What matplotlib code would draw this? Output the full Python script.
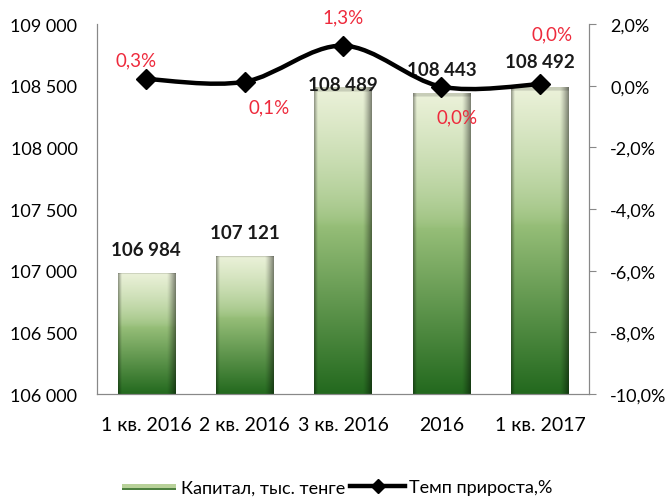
import numpy as np
import matplotlib
matplotlib.use("Agg")
import matplotlib.pyplot as plt
from matplotlib.path import Path
from matplotlib.patches import PathPatch, Rectangle
from matplotlib.legend_handler import HandlerBase
from matplotlib.lines import Line2D

categories = ["1 кв. 2016", "2 кв. 2016", "3 кв. 2016", "2016", "1 кв. 2017"]
capital = [106984, 107121, 108489, 108443, 108492]
growth = [0.22, 0.13, 1.3, -0.03, 0.05]
growth_labels = ["0,3%", "0,1%", "1,3%", "0,0%", "0,0%"]
value_labels = ["106 984", "107 121", "108 489", "108 443", "108 492"]
left_ticks = [106000, 106500, 107000, 107500, 108000, 108500, 109000]
right_ticks = [-10, -8, -6, -4, -2, 0, 2]

plt.rcParams['font.family'] = ['Lato', 'DejaVu Sans']

fig = plt.figure(figsize=(6.68, 5.02), dpi=100)
ax = fig.add_axes([0.145, 0.213, 0.737, 0.737])
ax2 = ax.twinx()

x = np.arange(len(categories))
width = 0.58
ymin, ymax = 106000, 109000

# gradient image for bars
ny, nx = 200, 60
t = np.linspace(0, 1, ny)[:, None]  # 0 bottom -> 1 top
top = np.array([236, 242, 218]) / 255
mid = np.array([150, 190, 120]) / 255
bot = np.array([35, 105, 30]) / 255
tt = t[..., None]
vert = np.where(tt < 0.55, bot + (mid - bot) * (tt / 0.55),
                mid + (top - mid) * ((tt - 0.55) / 0.45) ** 0.7)
u = np.linspace(0, 1, nx)[None, :]
shade = np.ones_like(u)
shade = shade - 0.45 * np.clip((u - 0.85) / 0.15, 0, 1) ** 1.2 - 0.35 * np.clip((0.06 - u) / 0.06, 0, 1)
img = np.clip(vert * shade[..., None], 0, 1)
bev = (np.linspace(0, 1, ny) > 0.985)[:, None, None]
img = np.where(bev, np.clip(img * 0.85, 0, 1), img)

bars = ax.bar(x, capital, width=width, color=(0.3, 0.55, 0.25), zorder=2)
for b in bars:
    x0 = b.get_x()
    h = b.get_height()
    im = ax.imshow(img, extent=[x0, x0 + width, ymin, h], origin='lower',
                   aspect='auto', zorder=2.1, interpolation='bilinear')
    im.set_clip_path(b)

val_offsets = [17, 17, 2, 17, 18]
for xi, v, lab, off in zip(x, capital, value_labels, val_offsets):
    ax.annotate(lab, (xi, v), xytext=(0, off), textcoords='offset points',
                ha='center', va='center', fontsize=13.5, fontweight='bold',
                color='#1a1a1a', zorder=5)

ax.set_xlim(-0.5, len(categories) - 0.5)
ax.set_ylim(ymin, ymax)
ax.set_yticks(left_ticks)
ax.set_yticklabels([f"{v:,}".replace(",", " ") for v in left_ticks], fontsize=13)
ax.set_xticks(x)
ax.set_xticklabels(categories, fontsize=14)
ax.tick_params(axis='y', length=0, pad=14)
ax.tick_params(axis='x', length=0, pad=16)

# smooth line through growth points (Catmull-Rom -> Bezier)
pts = np.column_stack([x, growth]).astype(float)
verts = [tuple(pts[0])]
codes = [Path.MOVETO]
n = len(pts)
for i in range(n - 1):
    p0 = pts[i - 1] if i > 0 else pts[i]
    p1, p2 = pts[i], pts[i + 1]
    p3 = pts[i + 2] if i + 2 < n else pts[i + 1]
    c1 = p1 + (p2 - p0) / 6
    c2 = p2 - (p3 - p1) / 6
    verts += [tuple(c1), tuple(c2), tuple(p2)]
    codes += [Path.CURVE4] * 3
ax2.add_patch(PathPatch(Path(verts, codes), fill=False, lw=3.2, color='black', zorder=6))
ax2.plot(x, growth, linestyle='none', marker='D', markersize=10, color='black', zorder=7)

pct_offsets = [(-7, 14), (18, -18), (0, 21), (11, -22), (9, 36)]
for xi, g, lab, (dx, dy) in zip(x, growth, growth_labels, pct_offsets):
    ax2.annotate(lab, (xi, g), xytext=(dx, dy), textcoords='offset points',
                 ha='center', va='center', fontsize=13.5, color='#ee2a3c', zorder=8)

ax2.set_ylim(-10, 2)
ax2.set_yticks(right_ticks)
ax2.set_yticklabels([f"{v:.1f}%".replace(".", ",") for v in right_ticks], fontsize=13)
ax2.tick_params(axis='y', length=5, color='#888888', pad=10)

for a in (ax, ax2):
    a.spines['top'].set_visible(False)
    for s in ('left', 'right', 'bottom'):
        a.spines[s].set_color('#888888')
ax.set_zorder(ax2.get_zorder() - 1)
ax.patch.set_visible(True)
ax2.patch.set_visible(False)


class GradHandler(HandlerBase):
    def create_artists(self, legend, orig, xd, yd, w, h, fontsize, trans):
        r1 = Rectangle((xd, yd + h * 0.18), w, h * 0.45, facecolor=(0.30, 0.50, 0.25),
                       edgecolor='none', transform=trans)
        r2 = Rectangle((xd, yd + h * 0.38), w, h * 0.25, facecolor=(0.72, 0.82, 0.60),
                       edgecolor='none', transform=trans)
        return [r1, r2]


h_bar = Rectangle((0, 0), 1, 1)
h_line = Line2D([], [], color='black', lw=3.2, marker='D', markersize=7)
leg = fig.legend([h_bar, h_line], ["Капитал, тыс. тенге", "Темп прироста,%"],
                 loc='center', bbox_to_anchor=(0.505, 0.027), ncol=2, frameon=False,
                 fontsize=13, handlelength=3.0, handletextpad=0.25, columnspacing=0.3,
                 handler_map={Rectangle: GradHandler()})

fig.savefig("out.png", dpi=100)
